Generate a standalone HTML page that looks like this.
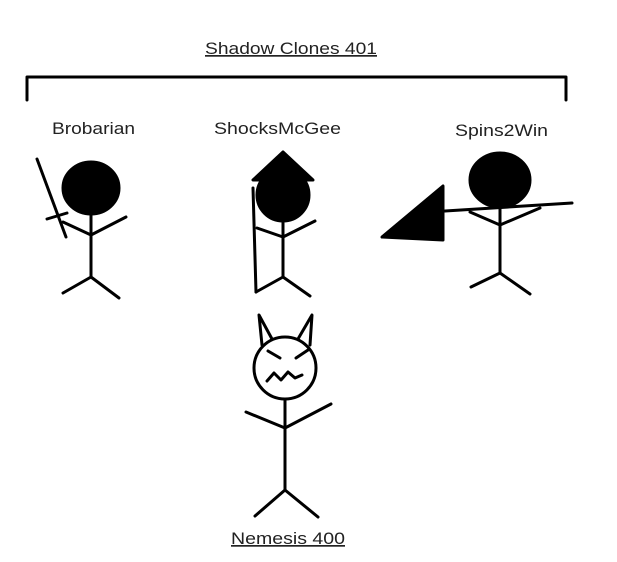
<!DOCTYPE html>
<html><head><meta charset="utf-8"><style>html,body{margin:0;padding:0;background:#fff;}svg{display:block}</style></head>
<body>
<svg width="617" height="562" viewBox="0 0 617 562" xmlns="http://www.w3.org/2000/svg" font-family="Liberation Sans, sans-serif" font-size="17" fill="#222">
<g stroke="#000" stroke-width="3" fill="none" stroke-linecap="round" stroke-linejoin="round">
<!-- bracket -->
<polyline points="27,100 27,77 566,77 566,100"/>
<!-- Brobarian -->
<ellipse cx="91" cy="188" rx="28" ry="26" fill="#000"/>
<line x1="91" y1="213" x2="91" y2="277"/>
<polyline points="63,222 91,235 126,217"/>
<polyline points="63,293 91,277 119,298"/>
<line x1="37" y1="159" x2="66" y2="237"/>
<line x1="47" y1="219" x2="67" y2="213"/>
<!-- ShocksMcGee -->
<ellipse cx="283" cy="195" rx="26" ry="26" fill="#000"/>
<polygon points="283,152 253,180 313,180" fill="#000"/>
<line x1="283" y1="218" x2="283" y2="277"/>
<polyline points="257,228 283,237 315,221"/>
<polyline points="256,292 283,277 310,296"/>
<line x1="253" y1="188" x2="256" y2="292"/>
<!-- Spins2Win -->
<ellipse cx="500" cy="180" rx="30" ry="27" fill="#000"/>
<line x1="500" y1="205" x2="500" y2="273"/>
<line x1="445" y1="211" x2="572" y2="203"/>
<polyline points="470,212 500,225 540,208"/>
<polygon points="382,237 443,186 443,240" fill="#000"/>
<polyline points="471,287 500,273 530,294"/>
<!-- Nemesis -->
<circle cx="285" cy="368" r="31" fill="#fff"/>
<polyline points="262,345 259,315 272,339"/>
<polyline points="298,339 312,315 310,345"/>
<line x1="285" y1="399" x2="285" y2="490"/>
<polyline points="246,412 285,428 331,404"/>
<polyline points="255,516 285,490 318,517"/>
<line x1="268" y1="351" x2="280" y2="358"/>
<line x1="296" y1="358" x2="308" y2="350"/>
<polyline points="267,381 274,373 281,380 288,372 295,378 302,375"/>
</g>
<text x="205" y="54" textLength="172" lengthAdjust="spacingAndGlyphs" text-decoration="underline">Shadow Clones 401</text>
<text x="52" y="134" textLength="83" lengthAdjust="spacingAndGlyphs">Brobarian</text>
<text x="214" y="134" textLength="127" lengthAdjust="spacingAndGlyphs">ShocksMcGee</text>
<text x="455" y="136" textLength="93" lengthAdjust="spacingAndGlyphs">Spins2Win</text>
<text x="231" y="544" textLength="114" lengthAdjust="spacingAndGlyphs" text-decoration="underline">Nemesis 400</text>
</svg>
</body></html>
